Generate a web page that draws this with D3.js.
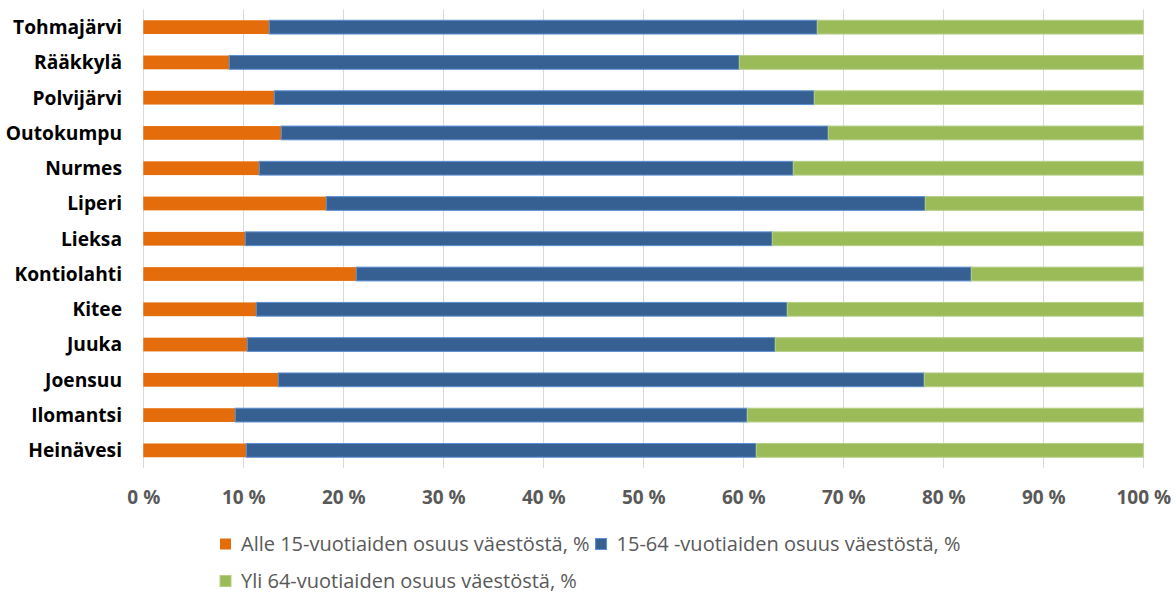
<!DOCTYPE html>
<html>
<head>
<meta charset="utf-8">
<script src="https://cdn.jsdelivr.net/npm/d3@7"></script>
<style>
  html, body { margin: 0; padding: 0; background: #fff; }
  svg { display: block; }
</style>
</head>
<body>
<svg id="chart" width="1176" height="593"></svg>
<script>
const categories = ["Tohmajärvi","Rääkkylä","Polvijärvi","Outokumpu","Nurmes","Liperi","Lieksa","Kontiolahti","Kitee","Juuka","Joensuu","Ilomantsi","Heinävesi"];
const alle15 = [12.6, 8.6, 13.1, 13.8, 11.6, 18.3, 10.2, 21.3, 11.3, 10.4, 13.5, 9.2, 10.3];
const tyoikaiset = [54.8, 51.0, 54.0, 54.7, 53.4, 59.9, 52.7, 61.5, 53.1, 52.8, 64.6, 51.2, 51.0];
const yli64 = [32.6, 40.4, 32.9, 31.5, 35.0, 21.8, 37.1, 17.2, 35.6, 36.8, 21.9, 39.6, 38.7];
const seriesNames = ["Alle 15-vuotiaiden osuus väestöstä, %", "15-64 -vuotiaiden osuus väestöstä, %", "Yli 64-vuotiaiden osuus väestöstä, %"];
const tickValues = [0,10,20,30,40,50,60,70,80,90,100];
const tickLabels = ["0 %","10 %","20 %","30 %","40 %","50 %","60 %","70 %","80 %","90 %","100 %"];

const colors = ["#E46C0A", "#376092", "#9BBB59"];
const strokes = ["none", "#5B8FD3", "#B5CF86"];

const svg = d3.select("#chart");
const margin = {left: 143.3, top: 9.5};

const rows = categories.map((c, i) => ({cat: c, a: alle15[i], b: tyoikaiset[i], c: yli64[i]}));
const stack = d3.stack().keys(["a","b","c"]).offset(d3.stackOffsetExpand);
const stacked = stack(rows);

const x = d3.scaleLinear().domain([0, 1]).range([margin.left, 1143.3]);
const y = d3.scaleBand().domain(categories).range([margin.top, 468]).paddingInner(0.61).paddingOuter(0.305);

// gridlines
svg.append("g").selectAll("line").data(tickValues).join("line")
  .attr("x1", d => Math.round(x(d/100)) + 0.5).attr("x2", d => Math.round(x(d/100)) + 0.5)
  .attr("y1", margin.top).attr("y2", 468)
  .attr("stroke", "#D9D9D9").attr("stroke-width", 1);

// bars
svg.append("g").selectAll("g").data(stacked).join("g")
  .attr("fill", (d, i) => colors[i])
  .attr("stroke", (d, i) => strokes[i])
  .attr("stroke-width", 1)
  .selectAll("rect").data(d => d).join("rect")
  .attr("x", d => x(d[0]))
  .attr("width", d => x(d[1]) - x(d[0]))
  .attr("y", d => y(d.data.cat))
  .attr("height", y.bandwidth());

// category axis labels
svg.append("g").selectAll("text").data(categories).join("text")
  .attr("x", 122).attr("y", d => y(d) + y.bandwidth()/2)
  .attr("dy", "0.36em")
  .attr("text-anchor", "end")
  .attr("font-family", "Open Sans")
  .attr("font-weight", "bold")
  .attr("font-size", 19.2)
  .attr("fill", "#000")
  .text(d => d);

// x tick labels
const xAxis = d3.axisBottom(x).tickValues(tickValues.map(v => v/100))
  .tickFormat((d, i) => tickLabels[i]).tickSize(0).tickPadding(0);
const gx = svg.append("g").attr("transform", "translate(0,490)").call(xAxis);
gx.select(".domain").remove();
gx.selectAll("text")
  .attr("font-family", "Open Sans").attr("font-weight", "bold")
  .attr("font-size", 19).attr("fill", "#595959").attr("dy", "0.72em");

// legend
const legend = svg.append("g");
const legendRows = [[0, 1], [2]];
const rowY = [543.5, 580.5];
legendRows.forEach((items, r) => {
  let cx = 220;
  items.forEach(si => {
    legend.append("rect").attr("x", cx).attr("y", rowY[r] - 5).attr("width", 11).attr("height", 11)
      .attr("fill", colors[si]).attr("stroke", strokes[si]).attr("stroke-width", 1);
    const t = legend.append("text").attr("x", cx + 21).attr("y", rowY[r]).attr("dy", "0.36em")
      .attr("font-family", "Open Sans").attr("font-size", 20).attr("fill", "#595959")
      .text(seriesNames[si]);
    cx += 21 + t.node().getComputedTextLength() + 6;
  });
});
</script>
</body>
</html>
